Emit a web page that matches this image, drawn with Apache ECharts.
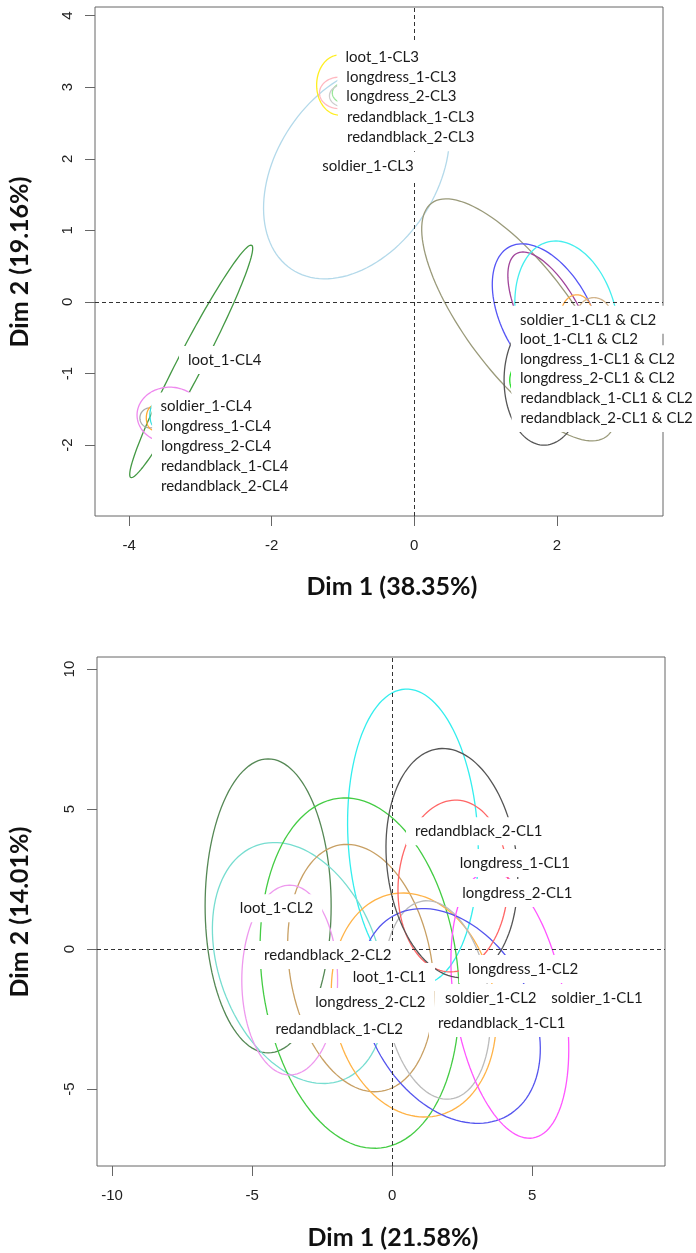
<!DOCTYPE html>
<html><head><meta charset="utf-8">
<script src="https://cdn.jsdelivr.net/npm/echarts@6/dist/echarts.min.js"></script>
<style>html,body{margin:0;padding:0;background:#fff}#c{width:696px;height:1253px}</style>
</head><body><div id="c"></div>
<script>
// ---------- TOP PANEL ----------
const topXTicks = [-4, -2, 0, 2];
const topYTicks = [-2, -1, 0, 1, 2, 3, 4];
const topLabelNames = ['loot_1-CL3','longdress_1-CL3','longdress_2-CL3','redandblack_1-CL3','redandblack_2-CL3','soldier_1-CL3',
  'loot_1-CL4','soldier_1-CL4','longdress_1-CL4','longdress_2-CL4','redandblack_1-CL4','redandblack_2-CL4',
  'soldier_1-CL1 & CL2','loot_1-CL1 & CL2','longdress_1-CL1 & CL2','longdress_2-CL1 & CL2','redandblack_1-CL1 & CL2','redandblack_2-CL1 & CL2'];
const topLabelX = [-0.45,-0.18,-0.18,-0.05,-0.05,-0.65,-2.66,-2.92,-2.78,-2.78,-2.66,-2.66,2.44,2.31,2.57,2.57,2.70,2.70];
const topLabelY = [3.42,3.14,2.87,2.58,2.30,1.90,-0.81,-1.46,-1.74,-2.01,-2.30,-2.57,-0.25,-0.52,-0.80,-1.07,-1.35,-1.62];
// ellipses: centre, semi-axes, rotation (deg)
const topEllCx = [-0.81,-1.05,-1.05,-0.98,-1.00,-3.13,-3.43,-3.71,-3.66,-3.63, 1.47, 1.86, 1.93, 2.14, 2.28, 2.52, 1.54, 1.82];
const topEllCy = [ 1.82, 3.03, 2.92, 2.92, 2.88,-0.83,-1.58,-1.62,-1.62,-1.58,-0.25,-0.22,-0.25,-0.25,-0.18,-0.22,-1.09,-1.09];
const topEllA  = [ 1.64, 0.32, 0.28, 0.17, 0.19, 1.83, 0.46, 0.14, 0.10, 0.08, 2.04, 1.12, 1.05, 0.70, 0.22, 0.25, 0.20, 0.56];
const topEllB  = [ 1.12, 0.42, 0.22, 0.14, 0.15, 0.18, 0.39, 0.14, 0.17, 0.17, 0.75, 0.63, 0.42, 1.12, 0.28, 0.28, 0.25, 0.91];
const topEllRot= [ 56, 0, 0, 0, 0, 62.4, 0, 0, 0, 0, -53, -62, -62, 13.5, 0, 0, 0, 0];
const topEllColors = ['#B3D9EA','#FFEE22','#FFB8C0','#99E699','#CCCCCC','#449944','#EE88EE','#AAAAAA','#FFAA33','#33DDDD',
  '#9A9A7A','#5555F5','#A0449A','#44EEEE','#FFAA44','#D2B48C','#22DD22','#555555'];

// ---------- BOTTOM PANEL ----------
const botXTicks = [-10, -5, 0, 5];
const botYTicks = [-5, 0, 5, 10];
const botLabelNames = ['redandblack_2-CL1','longdress_1-CL1','longdress_2-CL1','loot_1-CL2','redandblack_2-CL2','longdress_1-CL2',
  'loot_1-CL1','soldier_1-CL2','soldier_1-CL1','longdress_2-CL2','redandblack_1-CL1','redandblack_1-CL2'];
const botLabelX = [3.09, 4.38, 4.47,-4.13,-2.30, 4.67,-0.10, 3.52, 7.31,-0.78, 3.91,-1.89];
const botLabelY = [4.21, 3.07, 2.00, 1.46,-0.21,-0.71,-1.00,-1.75,-1.75,-1.89,-2.64,-2.86];
const botEllCx = [ 0.74,-4.43,-3.33,-1.16,-1.12,-3.66, 0.77, 1.60, 2.07, 4.20, 2.17, 2.13];
const botEllCy = [ 4.00, 1.54,-0.50,-0.86,-0.68,-1.11,-2.00,-1.82,-2.39,-2.00, 2.25, 3.07];
const botEllA  = [ 2.32, 2.25, 2.86, 3.50, 2.54, 1.71, 2.89, 1.86, 4.11, 4.82, 1.96, 2.32];
const botEllB  = [ 5.29, 5.25, 4.46, 6.29, 4.46, 3.39, 4.04, 3.57, 2.86, 1.96, 3.07, 4.11];
const botEllRot= [ 3, 0, 20, 7, 9.6, 0, 11.5, 8, -60, -80, -3, 6.6];
const botEllColors = ['#33EEEE','#558855','#77DDD0','#44CC44','#C8A064','#EE99EE','#FFB347','#BBBBBB','#5555EE','#FF55FF','#FF6666','#555555'];

const LABEL_FONT = '15px Lato';
const TICK_FONT = 'Liberation Sans';

function ellData(cx, cy, a, b, r) { return cx.map((v, i) => [v, cy[i], a[i], b[i], r[i], i]); }
function ellSeries(gi, data, colors) {
  return {
    type: 'custom', xAxisIndex: gi, yAxisIndex: gi, clip: true, z: 2, silent: true,
    data: data,
    renderItem: function (params, api) {
      const cx = api.value(0), cy = api.value(1), a = api.value(2), b = api.value(3);
      const th = api.value(4) * Math.PI / 180, idx = api.value(5);
      const pts = [];
      const N = 120;
      for (let k = 0; k < N; k++) {
        const t = 2 * Math.PI * k / N;
        const x = cx + a * Math.cos(t) * Math.cos(th) - b * Math.sin(t) * Math.sin(th);
        const y = cy + a * Math.cos(t) * Math.sin(th) + b * Math.sin(t) * Math.cos(th);
        pts.push(api.coord([x, y]));
      }
      return { type: 'polygon', shape: { points: pts }, style: { fill: 'none', stroke: colors[idx], lineWidth: 1.3 } };
    }
  };
}
function labelSeries(gi, xs, ys, names, bg) {
  return {
    type: 'custom', xAxisIndex: gi, yAxisIndex: gi, clip: false, z: bg ? 5 : 6, silent: true,
    data: xs.map((v, i) => [v, ys[i], i]),
    renderItem: function (params, api) {
      const p = api.coord([api.value(0), api.value(1)]);
      const i = api.value(2);
      return {
        type: 'text', x: p[0], y: p[1],
        style: bg ? {
          text: names[i], font: LABEL_FONT, fill: '#fff', align: 'center', verticalAlign: 'middle',
          backgroundColor: '#fff', padding: [6, 9], lineHeight: 16
        } : {
          text: names[i], font: LABEL_FONT, fill: '#1a1a1a', align: 'center', verticalAlign: 'middle', lineHeight: 16
        }
      };
    }
  };
}
function zeroLines(gi) {
  return {
    type: 'line', xAxisIndex: gi, yAxisIndex: gi, data: [], z: 1, silent: true,
    markLine: { silent: true, symbol: 'none', label: { show: false },
      lineStyle: { type: [4, 3], color: '#333', width: 1 },
      data: [{ xAxis: 0 }, { yAxis: 0 }] }
  };
}
function xAx(gi, min, max, ticks) {
  return { type: 'value', gridIndex: gi, min: min, max: max, position: 'bottom',
    axisLine: { show: false, onZero: false }, splitLine: { show: false },
    axisTick: { show: true, inside: false, length: 10, customValues: ticks, lineStyle: { color: '#666', width: 1 } },
    axisLabel: { customValues: ticks, margin: 22, fontSize: 15, fontFamily: TICK_FONT, color: '#222' } };
}
function yAx(gi, min, max, ticks) {
  return { type: 'value', gridIndex: gi, min: min, max: max, position: 'left',
    axisLine: { show: false, onZero: false }, splitLine: { show: false },
    axisTick: { show: true, inside: false, length: 10, customValues: ticks, lineStyle: { color: '#666', width: 1 } },
    axisLabel: { customValues: ticks, margin: 20, rotate: 90, fontSize: 15, fontFamily: TICK_FONT, color: '#222' } };
}

const chart = echarts.init(document.getElementById('c'), null, { renderer: 'canvas' });
chart.setOption({
  animation: false,
  backgroundColor: '#fff',
  grid: [
    { left: 95, top: 7, width: 568, height: 509, show: true, borderColor: '#666', borderWidth: 1, backgroundColor: 'transparent' },
    { left: 97, top: 657, width: 568, height: 509, show: true, borderColor: '#666', borderWidth: 1, backgroundColor: 'transparent' }
  ],
  xAxis: [xAx(0, -4.48, 3.49, topXTicks), xAx(1, -10.54, 9.74, botXTicks)],
  yAxis: [yAx(0, -2.99, 4.12, topYTicks), yAx(1, -7.75, 10.43, botYTicks)],
  graphic: [
    { type: 'text', x: 392, y: 587, style: { text: 'Dim 1 (38.35%)', font: 'bold 25px Lato', fill: '#111', align: 'center', verticalAlign: 'middle', textAlign: 'center', textVerticalAlign: 'middle' } },
    { type: 'text', x: 20, y: 262, rotation: Math.PI / 2, style: { text: 'Dim 2 (19.16%)', font: 'bold 25px Lato', fill: '#111', align: 'center', verticalAlign: 'middle', textAlign: 'center', textVerticalAlign: 'middle' } },
    { type: 'text', x: 393, y: 1238, style: { text: 'Dim 1 (21.58%)', font: 'bold 25px Lato', fill: '#111', align: 'center', verticalAlign: 'middle', textAlign: 'center', textVerticalAlign: 'middle' } },
    { type: 'text', x: 20, y: 912, rotation: Math.PI / 2, style: { text: 'Dim 2 (14.01%)', font: 'bold 25px Lato', fill: '#111', align: 'center', verticalAlign: 'middle', textAlign: 'center', textVerticalAlign: 'middle' } }
  ],
  series: [
    zeroLines(0),
    ellSeries(0, ellData(topEllCx, topEllCy, topEllA, topEllB, topEllRot), topEllColors),
    labelSeries(0, topLabelX, topLabelY, topLabelNames, true),
    labelSeries(0, topLabelX, topLabelY, topLabelNames, false),
    zeroLines(1),
    ellSeries(1, ellData(botEllCx, botEllCy, botEllA, botEllB, botEllRot), botEllColors),
    labelSeries(1, botLabelX, botLabelY, botLabelNames, true),
    labelSeries(1, botLabelX, botLabelY, botLabelNames, false)
  ]
});
</script></body></html>
